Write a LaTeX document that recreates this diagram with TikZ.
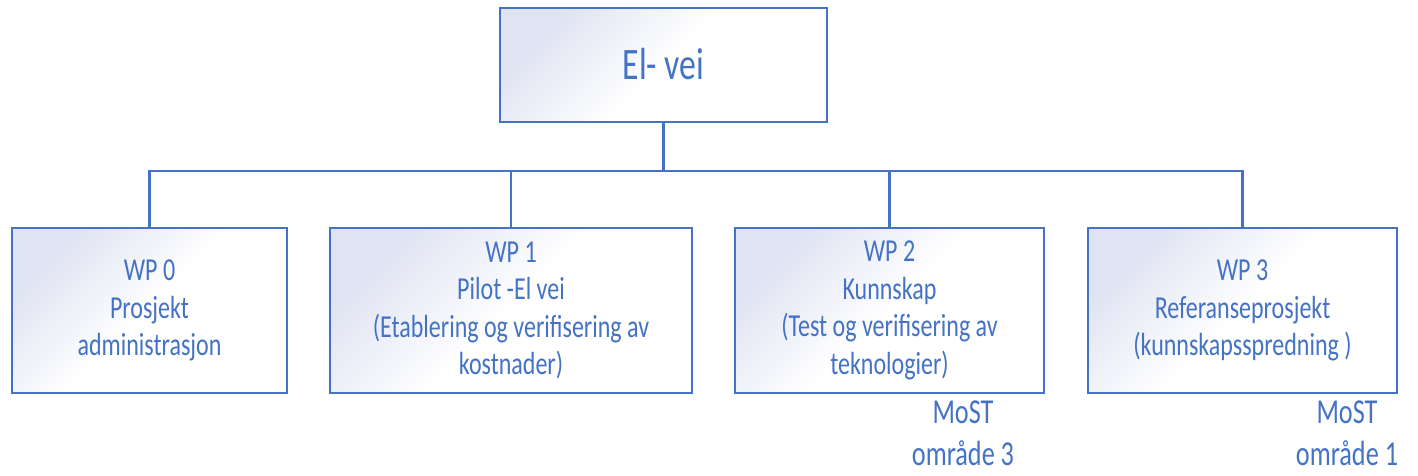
\documentclass[tikz,border=0pt]{standalone}
\usepackage{fontspec}
\setmainfont{Carlito}[FakeStretch=0.75]
\definecolor{wpblue}{HTML}{4472C4}
\definecolor{wplav}{HTML}{DFE3F2}
\begin{document}
\begin{tikzpicture}[x=1pt,y=-1pt,
  box/.style={draw=wpblue, line width=2pt, top color=wplav, bottom color=white,
    middle color=white, shading angle=45, inner sep=0pt, text=wpblue, align=center},
  wpbox/.style={box, minimum width=#1, minimum height=165pt,
    font=\fontsize{32}{37.5}\selectfont},
  topbox/.style={box, minimum width=327pt, minimum height=114pt,
    font=\fontsize{45}{50}\selectfont, text height=29pt, text depth=0pt},
  lbl/.style={text=wpblue, align=center, inner sep=0pt,
    font=\fontsize{35}{42}\selectfont},
  conn/.style={draw=wpblue, line width=2.4pt}
]
\useasboundingbox (0,0) rectangle (1418,475);

\node[topbox] (top) at (663.5,65) {El- vei};

\node[wpbox=275pt] (wp0) at (149.5,310.5) {WP 0\\Prosjekt\\administrasjon};
\node[wpbox=362pt] (wp1) at (511,310.5) {WP 1\\Pilot -El vei\\(Etablering og verifisering av\\kostnader)};
\node[wpbox=309pt] (wp2) at (889.5,310.5) {WP 2\\Kunnskap\\(Test og verifisering av\\teknologier)};
\node[wpbox=309pt] (wp3) at (1242.5,310.5) {WP 3\\Referanseprosjekt\\(kunnskapsspredning )};

\coordinate (bus) at (0,171);
\draw[conn] (top.south) -- (top.south |- bus);
\draw[conn] (wp0.north) -- (wp0.north |- bus) -- (wp3.north |- bus) -- (wp3.north);
\draw[conn] (wp1.north) -- (wp1.north |- bus);
\draw[conn] (wp2.north) -- (wp2.north |- bus);

\node[lbl] (most3) at (963,433) {MoST\\område 3};
\node[lbl] (most1) at (1347,433) {MoST\\område 1};
\end{tikzpicture}
\end{document}
